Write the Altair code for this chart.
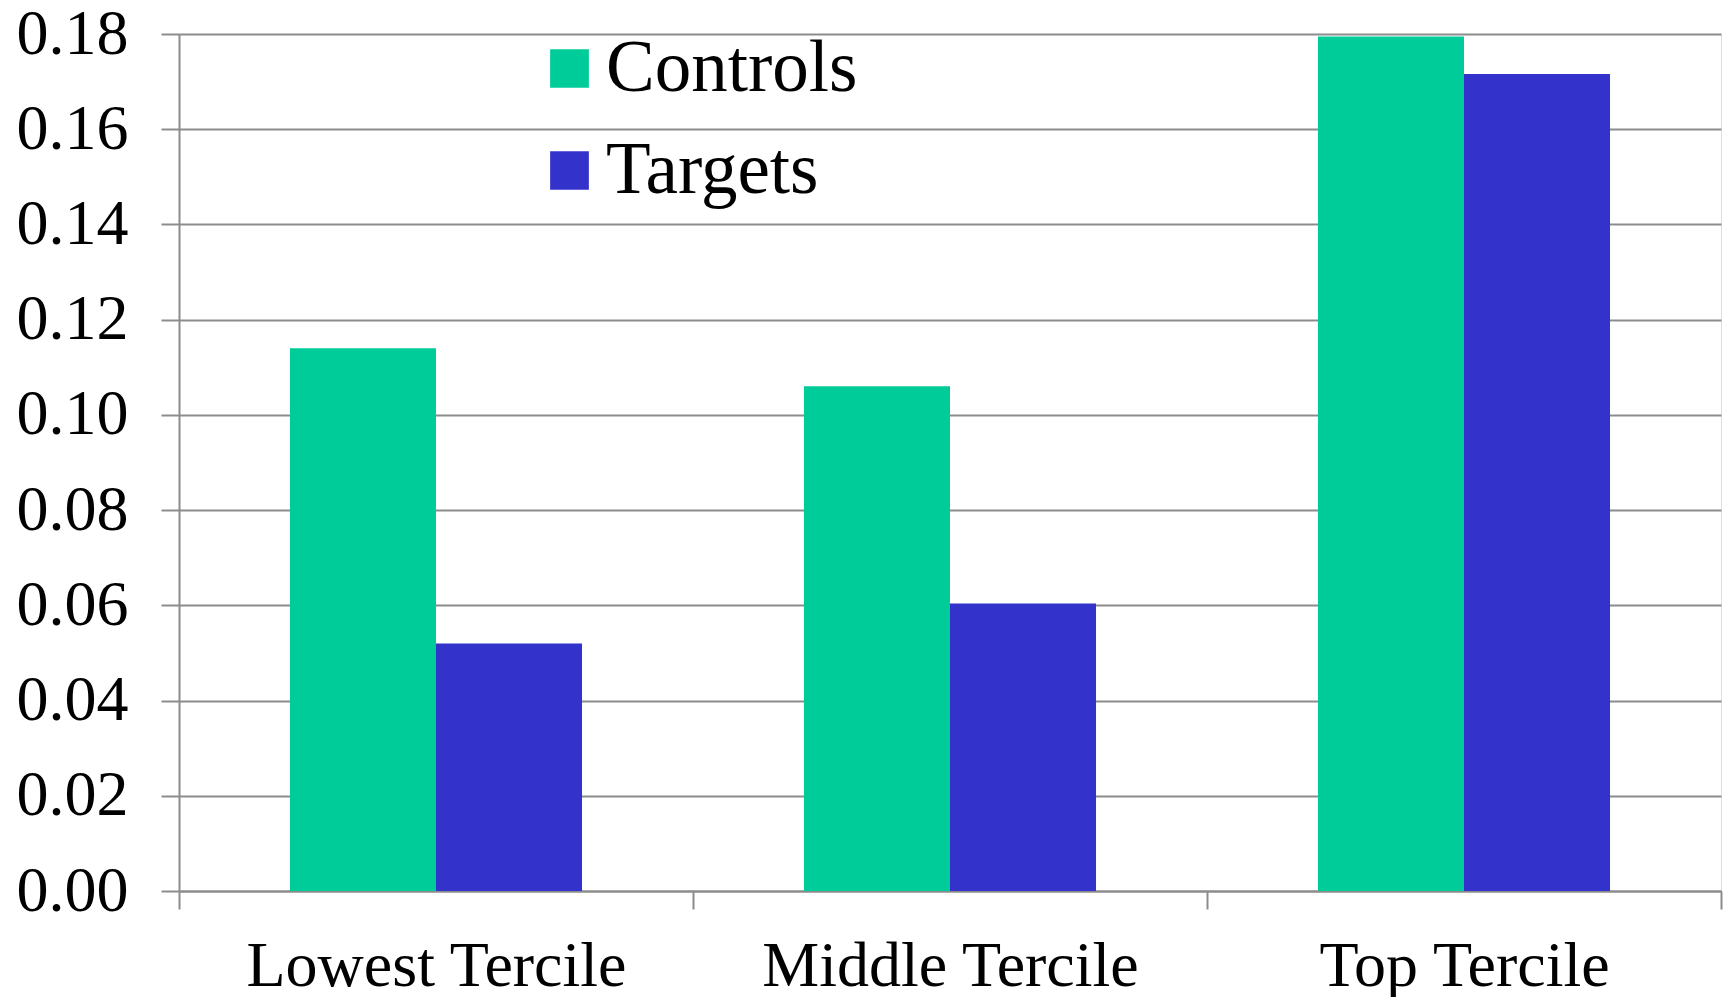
import altair as alt
import pandas as pd

# Mean values by tercile for the two groups
terciles = ["Lowest Tercile", "Middle Tercile", "Top Tercile"]
groups = ["Controls", "Targets"]
controls = [0.114, 0.106, 0.1795]
targets = [0.052, 0.0604, 0.1716]

rows = []
for i, t in enumerate(terciles):
    rows.append({"tercile": t, "group": "Controls", "value": controls[i]})
    rows.append({"tercile": t, "group": "Targets", "value": targets[i]})
df = pd.DataFrame(rows)

FONT = "Liberation Serif"
GRID = "#8c8c8c"

chart = (
    alt.Chart(df)
    .mark_bar()
    .encode(
        x=alt.X(
            "tercile:N",
            sort=terciles,
            scale=alt.Scale(paddingInner=0, paddingOuter=0),
            axis=alt.Axis(
                title=None,
                labelAngle=0,
                labelFont=FONT,
                labelFontSize=64,
                labelColor="black",
                labelPadding=25,
                labelLimit=0,
                tickBand="extent",
                tickSize=18,
                tickColor=GRID,
                tickWidth=2,
                domainColor=GRID,
                domainWidth=2,
                grid=False,
            ),
        ),
        xOffset=alt.XOffset(
            "group:N",
            sort=groups,
            scale=alt.Scale(paddingInner=0, paddingOuter=0.76),
        ),
        y=alt.Y(
            "value:Q",
            scale=alt.Scale(domain=[0, 0.18], nice=False, zero=True),
            axis=alt.Axis(
                title=None,
                values=[0, 0.02, 0.04, 0.06, 0.08, 0.10, 0.12, 0.14, 0.16, 0.18],
                format=".2f",
                labelFont=FONT,
                labelFontSize=64,
                labelColor="black",
                labelPadding=33,
                labelLimit=0,
                tickSize=18,
                tickColor=GRID,
                tickWidth=2,
                domainColor=GRID,
                domainWidth=2,
                grid=True,
                gridColor=GRID,
                gridWidth=2,
            ),
        ),
        color=alt.Color(
            "group:N",
            sort=groups,
            scale=alt.Scale(domain=groups, range=["#00CC99", "#3333CC"]),
            legend=alt.Legend(
                title=None,
                orient="none",
                legendX=354,
                legendY=-2,
                direction="vertical",
                symbolType="square",
                symbolSize=1500,
                symbolStrokeWidth=0,
                labelFont=FONT,
                labelFontSize=73,
                labelColor="black",
                labelOffset=0,
                labelLimit=0,
                rowPadding=28,
            ),
        ),
    )
    .properties(
        width=1542,
        height=857,
        autosize=alt.AutoSizeParams(type="none"),
        padding={"left": 179, "top": 34, "right": 3, "bottom": 106},
    )
    .configure_view(stroke=None)
    .configure(background="white")
)

chart.save("out.html", embed_options={"renderer": "svg", "actions": False})
